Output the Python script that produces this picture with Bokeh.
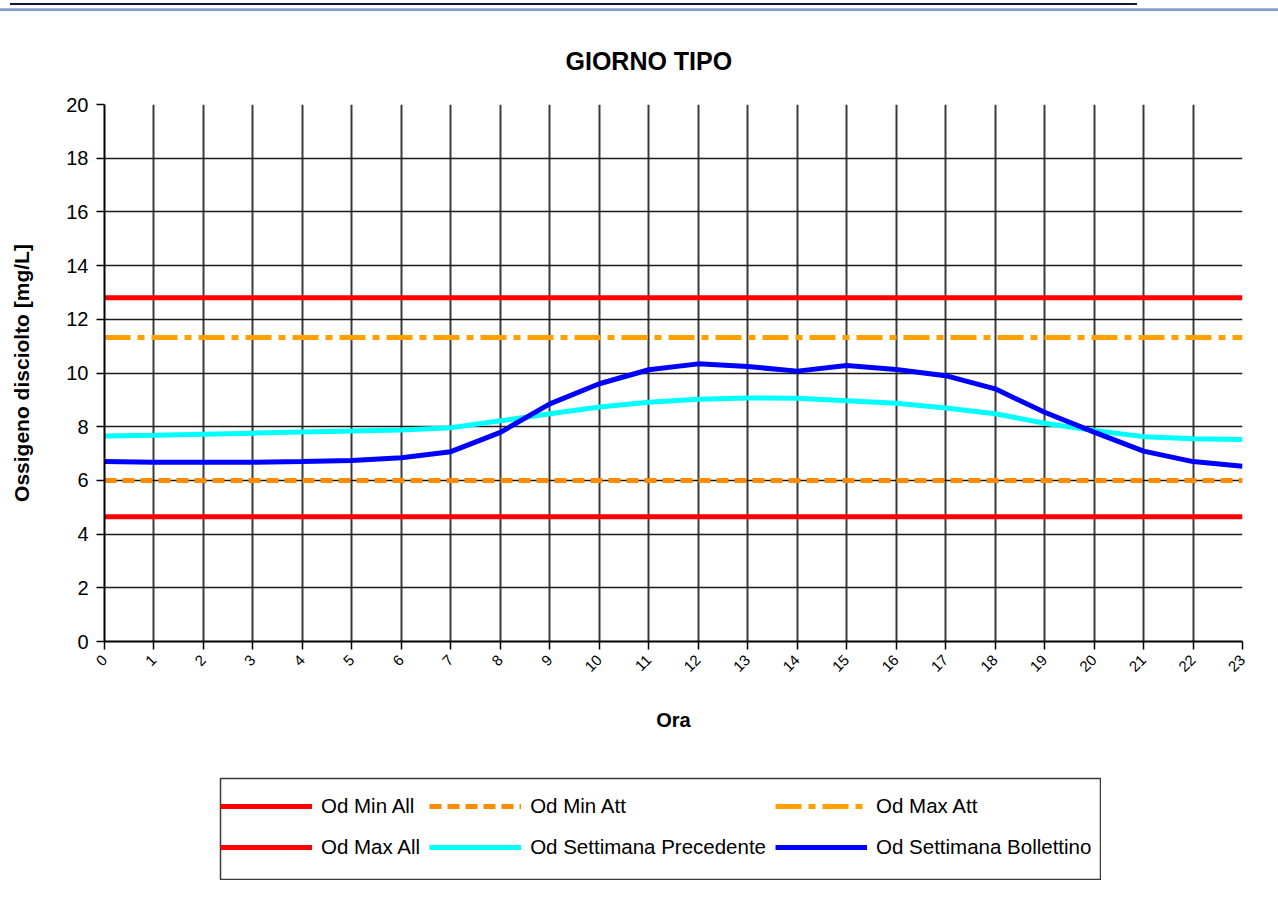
import math
from bokeh.plotting import figure
from bokeh.models import Range1d, Legend, LegendItem, Spacer
from bokeh.layouts import column, row
from bokeh.embed import file_html
from bokeh.resources import INLINE

# ---------------- data ----------------
hours = list(range(24))
od_min_all_value = 4.65
od_max_all_value = 12.8
od_min_att_value = 6.0
od_max_att_value = 11.32
od_settimana_precedente = [7.65, 7.68, 7.72, 7.76, 7.80, 7.84, 7.88, 7.96, 8.22, 8.48,
                           8.73, 8.91, 9.02, 9.07, 9.06, 8.97, 8.87, 8.70, 8.48, 8.13,
                           7.86, 7.63, 7.55, 7.52]
od_settimana_bollettino = [6.70, 6.68, 6.68, 6.68, 6.70, 6.74, 6.84, 7.07, 7.79, 8.85,
                           9.60, 10.12, 10.34, 10.24, 10.07, 10.28, 10.13, 9.90, 9.41, 8.54,
                           7.80, 7.09, 6.70, 6.53]
y_ticks = [0, 2, 4, 6, 8, 10, 12, 14, 16, 18, 20]

FONT = "Liberation Sans"

# ---------------- main chart ----------------
p = figure(width=1270, height=766, x_range=Range1d(0, 23), y_range=Range1d(0, 20),
           output_backend="svg", toolbar_location=None,
           min_border_left=104, min_border_right=28, min_border_top=93, min_border_bottom=136)
p.outline_line_color = None
p.background_fill_color = "white"
p.border_fill_color = "white"

p.title.text = "GIORNO TIPO"
p.title.align = "left"
p.title.offset = 461
p.title.standoff = 60
p.title.text_font = FONT
p.title.text_font_style = "bold"
p.title.text_font_size = "25px"
p.title.text_color = "black"

p.xaxis.ticker = hours
p.yaxis.ticker = y_ticks
p.xgrid.grid_line_color = "#3a3a3a"
p.xgrid.grid_line_width = 2
p.ygrid.grid_line_color = "#1a1a1a"
p.ygrid.grid_line_width = 1.6

for ax in (p.xaxis, p.yaxis):
    ax.axis_line_color = "black"
    ax.axis_line_width = 2
    ax.major_tick_line_color = "black"
    ax.major_tick_line_width = 1.5
    ax.major_tick_out = 8
    ax.major_tick_in = 0
    ax.minor_tick_line_color = None
    ax.major_label_text_font = FONT
    ax.major_label_text_color = "black"
    ax.axis_label_text_font = FONT
    ax.axis_label_text_font_style = "bold"
    ax.axis_label_text_color = "black"
    ax.axis_label_text_font_size = "20px"

p.yaxis.major_label_text_font_size = "20px"
p.yaxis.major_label_standoff = 8
p.yaxis.axis_label = "Ossigeno disciolto [mg/L]"
p.yaxis.axis_label_text_font_size = "21px"
p.yaxis.axis_label_standoff = 30

p.xaxis.major_label_text_font_size = "15px"
p.xaxis.major_label_orientation = math.pi / 4
p.xaxis.major_label_standoff = 8
p.xaxis.axis_label = "Ora"
p.xaxis.axis_label_standoff = 30

style_min_all = dict(line_color="#ff0000", line_width=5)
style_max_all = dict(line_color="#ff0000", line_width=5)
style_min_att = dict(line_color="#ff8c00", line_width=5, line_dash="12 6")
style_max_att = dict(line_color="#ffa000", line_width=5, line_dash="26 7 7 7")
style_prec = dict(line_color="#00ffff", line_width=5)
style_boll = dict(line_color="#0000ff", line_width=5)

series = [
    ("Od Min All", [od_min_all_value] * len(hours), style_min_all),
    ("Od Min Att", [od_min_att_value] * len(hours), style_min_att),
    ("Od Max Att", [od_max_att_value] * len(hours), style_max_att),
    ("Od Max All", [od_max_all_value] * len(hours), style_max_all),
    ("Od Settimana Precedente", od_settimana_precedente, style_prec),
    ("Od Settimana Bollettino", od_settimana_bollettino, style_boll),
]

for name, vals, st in series:
    p.line(hours, vals, **st)

# ---------------- legend box (separate panel with its own frame) ----------------
lg = figure(width=882, height=103, x_range=Range1d(0, 23), y_range=Range1d(100, 101),
            output_backend="svg", toolbar_location=None, min_border=1,
            x_axis_type=None, y_axis_type=None)
lg.outline_line_color = "#3a3a3a"
lg.outline_line_width = 1.5
lg.background_fill_color = "white"
lg.border_fill_color = "white"

items = []
for name, vals, st in series:
    r = lg.line(hours, vals, **st)
    items.append(LegendItem(label=name, renderers=[r]))

legend = Legend(items=items, orientation="horizontal", ncols=3, location=(0, 16),
                padding=0, margin=0, spacing=9, label_standoff=9,
                glyph_width=92, glyph_height=32, label_height=32,
                label_text_font=FONT, label_text_font_size="20.5px", label_text_color="black",
                border_line_alpha=0, background_fill_alpha=0)
lg.add_layout(legend)

# ---------------- page header rules ----------------
underline = Spacer(width=1127, height=2, styles={"background-color": "#1d1238"})
header_rule = Spacer(width=1278, height=3,
                     styles={"background": "linear-gradient(#a9bcdc, #6f8fbf)"})

layout = column(
    Spacer(width=10, height=3),
    row(Spacer(width=10, height=2), underline),
    Spacer(width=10, height=3),
    header_rule,
    p,
    row(Spacer(width=219, height=103), lg),
)

open("out.html", "w").write(file_html(layout, INLINE))
